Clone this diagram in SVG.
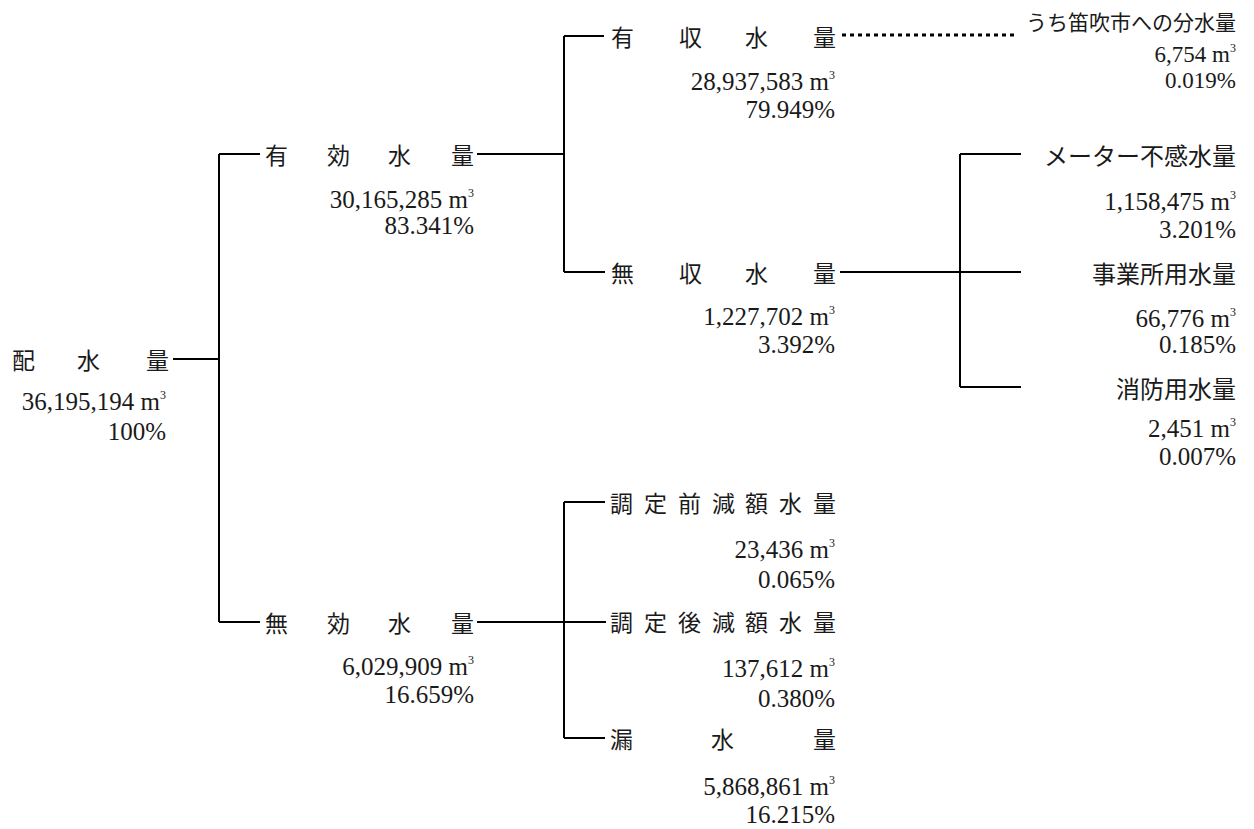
<svg xmlns="http://www.w3.org/2000/svg" width="1254" height="829" viewBox="0 0 1254 829">
<style>
.jp{font-family:"Noto Sans CJK JP","Noto Sans CJK SC",sans-serif;font-size:23px;fill:#1a1a1a;dominant-baseline:central}
.jr{text-anchor:end;font-size:24px}
.num{font-family:"Liberation Serif","Times New Roman",serif;font-size:25px;fill:#1a1a1a;text-anchor:end}
.sup{font-size:12px}
.ln{stroke:#000;stroke-width:2;fill:none}
.dot{stroke:#000;stroke-width:3;fill:none;stroke-dasharray:4 4}
</style>
<rect width="1254" height="829" fill="#fff"/>
<g id="connectors">
<path class="ln" d="M173 359H219M219 154V622M219 154H260M219 622H260"/>
<path class="ln" d="M477 154H564M564 36V272M564 36H604M564 272H605"/>
<path class="dot" d="M842 35H1017"/>
<path class="ln" d="M840 272H1021M960 154V387M960 154H1021M960 387H1021"/>
<path class="ln" d="M477 622H606M564 502V738M564 502H605M564 738H605"/>
</g>
<g id="n-haisui">
<text class="jp" x="12 77 146" y="359">配水量</text>
<text class="num" x="166" y="410">36,195,194 m<tspan class="sup" dy="-11">3</tspan></text>
<text class="num" x="166" y="440">100%</text>
</g>
<g id="n-yuko">
<text class="jp" x="265 327 388 451" y="154">有効水量</text>
<text class="num" x="474" y="208">30,165,285 m<tspan class="sup" dy="-11">3</tspan></text>
<text class="num" x="474" y="234">83.341%</text>
</g>
<g id="n-muko">
<text class="jp" x="265 327 388 451" y="622">無効水量</text>
<text class="num" x="474" y="675">6,029,909 m<tspan class="sup" dy="-11">3</tspan></text>
<text class="num" x="474" y="703">16.659%</text>
</g>
<g id="n-yushu">
<text class="jp" x="611 679 745 813" y="36">有収水量</text>
<text class="num" x="835" y="90">28,937,583 m<tspan class="sup" dy="-11">3</tspan></text>
<text class="num" x="835" y="118">79.949%</text>
</g>
<g id="n-bunsui">
<text class="jp" x="1236" y="21" style="text-anchor:end;font-size:21px">うち笛吹市への分水量</text>
<text class="num" x="1236" y="62" style="font-size:23px">6,754 m<tspan class="sup" dy="-10">3</tspan></text>
<text class="num" x="1236" y="88" style="font-size:23px">0.019%</text>
</g>
<g id="n-mushu">
<text class="jp" x="611 679 745 813" y="272">無収水量</text>
<text class="num" x="835" y="325">1,227,702 m<tspan class="sup" dy="-11">3</tspan></text>
<text class="num" x="835" y="353">3.392%</text>
</g>
<g id="n-meter">
<text class="jp jr" x="1236" y="154">メーター不感水量</text>
<text class="num" x="1236" y="210">1,158,475 m<tspan class="sup" dy="-11">3</tspan></text>
<text class="num" x="1236" y="238">3.201%</text>
</g>
<g id="n-jigyosho">
<text class="jp jr" x="1236" y="272">事業所用水量</text>
<text class="num" x="1236" y="327">66,776 m<tspan class="sup" dy="-11">3</tspan></text>
<text class="num" x="1236" y="353">0.185%</text>
</g>
<g id="n-shobo">
<text class="jp jr" x="1236" y="387">消防用水量</text>
<text class="num" x="1236" y="437">2,451 m<tspan class="sup" dy="-11">3</tspan></text>
<text class="num" x="1236" y="465">0.007%</text>
</g>
<g id="n-choteimae">
<text class="jp" x="610 644 678 712 745 779 813" y="502">調定前減額水量</text>
<text class="num" x="835" y="558">23,436 m<tspan class="sup" dy="-11">3</tspan></text>
<text class="num" x="835" y="588">0.065%</text>
</g>
<g id="n-choteigo">
<text class="jp" x="610 644 678 712 745 779 813" y="621">調定後減額水量</text>
<text class="num" x="835" y="677">137,612 m<tspan class="sup" dy="-11">3</tspan></text>
<text class="num" x="835" y="707">0.380%</text>
</g>
<g id="n-rosui">
<text class="jp" x="610 711 813" y="738">漏水量</text>
<text class="num" x="835" y="795">5,868,861 m<tspan class="sup" dy="-11">3</tspan></text>
<text class="num" x="835" y="823">16.215%</text>
</g>
</svg>
